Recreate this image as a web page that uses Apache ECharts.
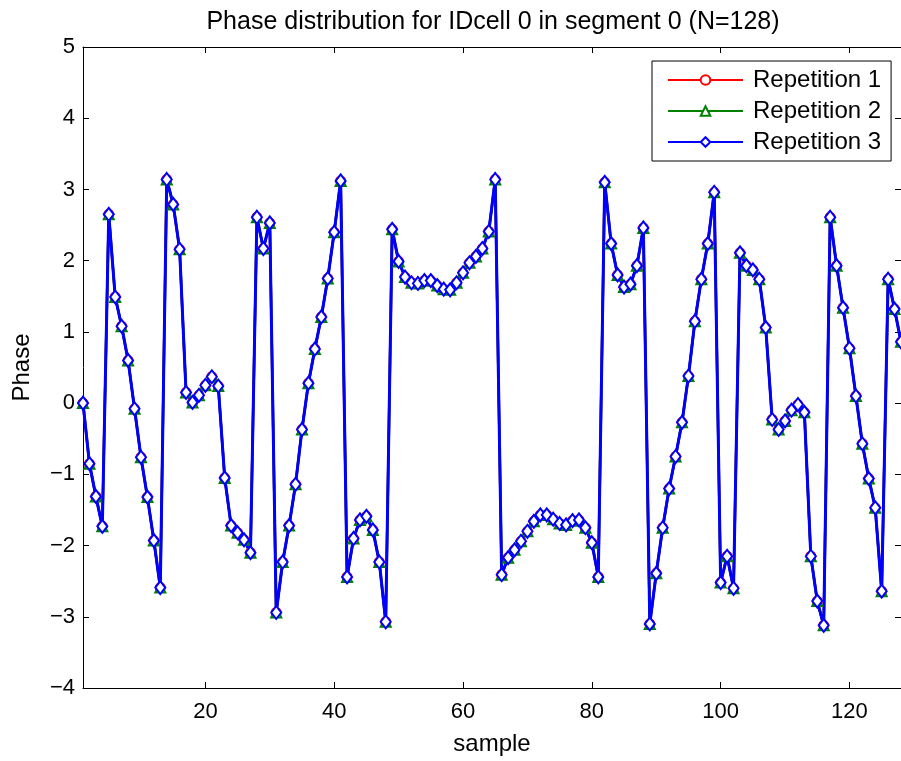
<!DOCTYPE html>
<html>
<head>
<meta charset="utf-8">
<title>Phase distribution</title>
<script src="https://cdn.jsdelivr.net/npm/echarts@6/dist/echarts.min.js"></script>
<style>
  html, body { margin: 0; padding: 0; background: #fff; }
  #container { width: 901px; height: 761px; }
</style>
</head>
<body>
<div id="container"></div>
<script>
// phase per sample (the 3 repetitions overlap)
var rep1 = [
  0.00, -0.85, -1.31, -1.73, 2.65, 1.49, 1.08, 0.60, -0.08, -0.76,
  -1.32, -1.93, -2.59, 3.14, 2.79, 2.16, 0.15, 0.01, 0.11, 0.25,
  0.37, 0.24, -1.05, -1.72, -1.82, -1.92, -2.10, 2.61, 2.17, 2.53,
  -2.94, -2.23, -1.72, -1.14, -0.37, 0.28, 0.76, 1.21, 1.75, 2.40,
  3.12, -2.44, -1.90, -1.64, -1.59, -1.78, -2.23, -3.07, 2.44, 1.99,
  1.77, 1.69, 1.68, 1.72, 1.72, 1.65, 1.60, 1.59, 1.69, 1.83,
  1.97, 2.06, 2.17, 2.41, 3.14, -2.41, -2.17, -2.06, -1.94, -1.80,
  -1.66, -1.57, -1.57, -1.63, -1.69, -1.71, -1.65, -1.64, -1.75, -1.96,
  -2.44, 3.10, 2.24, 1.80, 1.63, 1.67, 1.93, 2.46, -3.10, -2.39,
  -1.75, -1.20, -0.75, -0.27, 0.38, 1.15, 1.74, 2.24, 2.96, -2.52,
  -2.15, -2.60, 2.11, 1.93, 1.87, 1.74, 1.06, -0.23, -0.37, -0.25,
  -0.10, -0.02, -0.13, -2.15, -2.78, -3.12, 2.61, 1.93, 1.34, 0.77,
  0.10, -0.57, -1.06, -1.47, -2.64, 1.74, 1.32, 0.86
];
var rep2 = rep1.slice();
var rep3 = rep1.slice();

var seriesNames = ["Repetition 1", "Repetition 2", "Repetition 3"];
var xTicks = [20, 40, 60, 80, 100, 120];
var yMin = -4, yMax = 5;

var font = "Liberation Sans, Arial, Helvetica, sans-serif";

function toPairs(arr) {
  return arr.map(function (v, i) { return [i + 1, v]; });
}
function minusFmt(v) {
  return v < 0 ? "\u2212" + (-v) : String(v);
}

var axisLine = { show: true, onZero: false, lineStyle: { color: "#000", width: 1 } };
var tick = { show: true, inside: true, length: 6, lineStyle: { color: "#000" } };

var option = {
  animation: false,
  backgroundColor: "#fff",
  title: {
    text: "Phase distribution for IDcell 0 in segment 0 (N=128)",
    left: 493,
    top: 10,
    textAlign: "center",
    padding: 0,
    textStyle: { color: "#000", fontWeight: "normal", fontSize: 25, fontFamily: font }
  },
  legend: {
    orient: "vertical",
    left: 652,
    top: 61,
    padding: [7, 10, 7, 15],
    itemGap: 7,
    itemWidth: 75,
    itemHeight: 12,
    backgroundColor: "#fff",
    borderColor: "#000",
    borderWidth: 1,
    data: seriesNames,
    textStyle: { color: "#000", fontSize: 24, fontFamily: font, padding: [0, 0, 0, 5] }
  },
  grid: { left: 83, top: 47, width: 821, height: 648, containLabel: false },
  xAxis: [
    {
      type: "value", position: "bottom", min: 1, max: 128,
      axisLine: axisLine,
      axisTick: Object.assign({ customValues: xTicks }, tick),
      axisLabel: { customValues: xTicks, color: "#000", fontSize: 22, fontFamily: font, margin: 13 },
      splitLine: { show: false },
      name: "sample", nameLocation: "middle", nameGap: 44,
      nameTextStyle: { color: "#000", fontSize: 24, fontFamily: font }
    },
    {
      type: "value", position: "top", min: 1, max: 128,
      axisLine: axisLine,
      axisTick: Object.assign({ customValues: xTicks }, tick),
      axisLabel: { show: false },
      splitLine: { show: false }
    }
  ],
  yAxis: [
    {
      type: "value", position: "left", min: yMin, max: yMax, interval: 1,
      axisLine: axisLine, axisTick: tick,
      axisLabel: { color: "#000", fontSize: 22, fontFamily: font, margin: 8, formatter: minusFmt },
      splitLine: { show: false },
      name: "Phase", nameLocation: "middle", nameGap: 49, nameRotate: 90,
      nameTextStyle: { color: "#000", fontSize: 24, fontFamily: font }
    },
    {
      type: "value", position: "right", min: yMin, max: yMax, interval: 1,
      axisLine: axisLine, axisTick: tick,
      axisLabel: { show: false },
      splitLine: { show: false }
    }
  ],
  series: [
    {
      name: seriesNames[0], type: "line", data: toPairs(rep1),
      symbol: "emptyCircle", symbolSize: 9,
      lineStyle: { color: "#ff0000", width: 2.5 },
      itemStyle: { color: "#ff0000", borderWidth: 2 }
    },
    {
      name: seriesNames[1], type: "line", data: toPairs(rep2),
      symbol: "emptyTriangle", symbolSize: 10,
      lineStyle: { color: "#008000", width: 2.5 },
      itemStyle: { color: "#008000", borderWidth: 2 }
    },
    {
      name: seriesNames[2], type: "line", data: toPairs(rep3),
      symbol: "emptyDiamond", symbolSize: [10, 13],
      lineStyle: { color: "#0000ff", width: 3 },
      itemStyle: { color: "#0000ff", borderWidth: 2.5 }
    }
  ]
};

var chart = echarts.init(document.getElementById("container"));
chart.setOption(option);
</script>
</body>
</html>
